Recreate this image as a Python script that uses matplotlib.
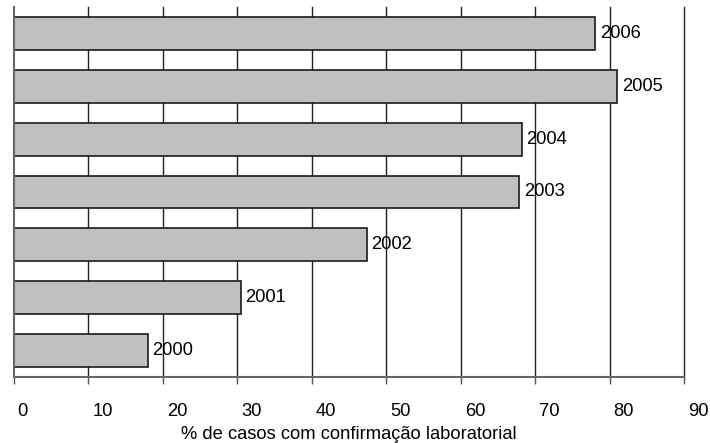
import matplotlib
matplotlib.use("Agg")
import matplotlib.pyplot as plt
from matplotlib.transforms import ScaledTranslation

plt.rcParams['font.family'] = ['Liberation Sans', 'DejaVu Sans']

years = ["2000", "2001", "2002", "2003", "2004", "2005", "2006"]
percent = [18.0, 30.5, 47.4, 67.9, 68.2, 81.0, 78.1]
xticks = [0, 10, 20, 30, 40, 50, 60, 70, 80, 90]

FS = 13.2

fig = plt.figure(figsize=(7.10, 4.43), dpi=100)
ax = fig.add_axes([13.5 / 710, 1 - 377 / 443, (684 - 13.5) / 710, (377 - 7) / 443])

pos = list(range(len(years)))
ax.barh(pos, percent, height=0.62, color="#c0c0c0", edgecolor="#1a1a1a",
        linewidth=1.2, zorder=2)

for p, v, lab in zip(pos, percent, years):
    ax.text(v + 0.65, p, lab, va="center", ha="left", fontsize=FS, color="black", zorder=3)

ax.set_xlim(0, 90)
ax.set_ylim(-0.5, len(years) - 0.5)
ax.set_xticks(xticks)
ax.set_xticklabels([str(t) for t in xticks], fontsize=FS)
ax.set_yticks([])
ax.tick_params(axis="x", length=5, width=1, color="#555555", pad=14)

# tick labels sit just to the right of their tick
shift = ScaledTranslation(3 / 72, 0, fig.dpi_scale_trans)
for lbl in ax.get_xticklabels():
    lbl.set_horizontalalignment("left")
    lbl.set_transform(lbl.get_transform() + shift)

for t in xticks[1:]:
    ax.axvline(t, color="#222222", linewidth=1, zorder=1, clip_on=False)

for s in ["top", "right"]:
    ax.spines[s].set_visible(False)
ax.spines["left"].set_color("#666666")
ax.spines["left"].set_linewidth(1.5)
ax.spines["bottom"].set_color("#666666")
ax.spines["bottom"].set_linewidth(1.5)

ax.set_xlabel("% de casos com confirmação laboratorial", fontsize=FS, labelpad=4)

fig.savefig("out.png", dpi=100)
